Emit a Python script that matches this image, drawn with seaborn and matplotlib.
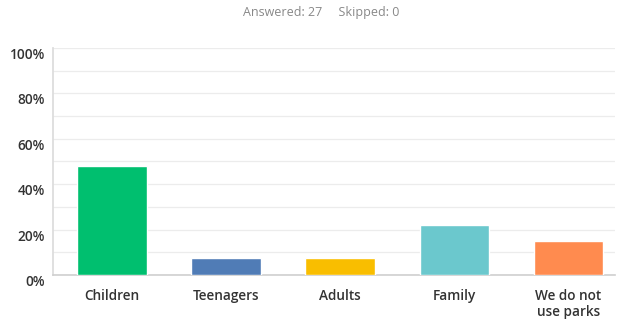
import pandas as pd
import numpy as np
import seaborn as sns
import matplotlib.pyplot as plt
from matplotlib.ticker import MultipleLocator

# survey answers (percent of 27 respondents)
categories = ['Children', 'Teenagers', 'Adults', 'Family', 'We do not\nuse parks']
percents = [48.15, 7.41, 7.41, 22.22, 14.81]
bar_colors = ['#00bf6f', '#507cb6', '#f9be00', '#6bc8cd', '#ff8b4f']
y_ticks = [0, 20, 40, 60, 80, 100]

sns.set_theme(style='white')
plt.rcParams['font.family'] = ['Open Sans', 'DejaVu Sans']

df = pd.DataFrame({'answer': categories, 'pct': percents})

fig = plt.figure(figsize=(6.17, 3.19), dpi=100)
ax = fig.add_axes([0.086, 0.138, 0.911, 0.712])

sns.barplot(data=df, x='answer', y='pct', hue='answer', palette=bar_colors,
            legend=False, width=0.61, saturation=1, ax=ax, zorder=3)

ax.set_ylim(0, 100)
ax.set_xlim(-0.518, 4.41)
ax.set_yticks(y_ticks)
ax.set_yticklabels([f'{t}%' for t in y_ticks])
ax.yaxis.set_minor_locator(MultipleLocator(10))
ax.grid(axis='y', which='both', color='#ececec', linewidth=0.9, zorder=0)
ax.set_xlabel('')
ax.set_ylabel('')

for s in ['top', 'right']:
    ax.spines[s].set_visible(False)
ax.spines['left'].set_color('#dcdcdc')
ax.spines['bottom'].set_color('#cfcfcf')
ax.spines['bottom'].set_linewidth(1.2)

ax.tick_params(axis='both', length=0, labelsize=9.8, labelcolor='#333333')
ax.tick_params(axis='x', pad=10)
ax.tick_params(axis='y', pad=6)
for lbl in ax.get_xticklabels() + ax.get_yticklabels():
    lbl.set_fontweight('semibold')
for lbl in ax.get_yticklabels():
    lbl.set_verticalalignment('top')

fig.text(0.52, 0.96, 'Answered: 27     Skipped: 0', ha='center', va='center',
         fontsize=9, color='#888888')

plt.savefig('out.png', dpi=100)
